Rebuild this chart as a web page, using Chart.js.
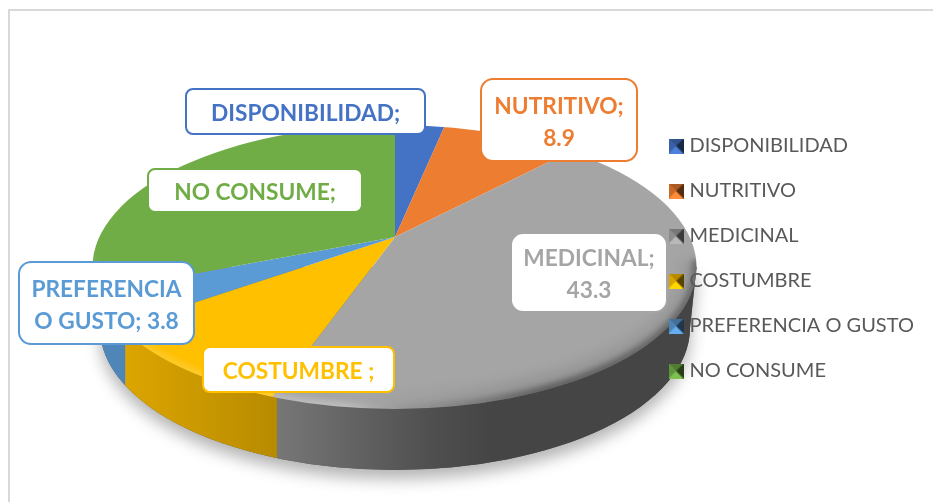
<!DOCTYPE html>
<html><head><meta charset="utf-8">
<style>html,body{margin:0;padding:0;background:#fff}canvas{display:block}</style>
<script src="https://cdn.jsdelivr.net/npm/chart.js@4"></script>
</head><body>
<canvas id="c" width="933" height="502"></canvas>
<script>
// DATA
const categories = ["DISPONIBILIDAD","NUTRITIVO","MEDICINAL","COSTUMBRE","PREFERENCIA O GUSTO","NO CONSUME"];
const values = [3.3, 8.9, 43.3, 9.8, 3.8, 30.9];
const colors = ["#4472c4","#ed7d31","#a5a5a5","#ffc000","#5b9bd5","#70ad47"];
const calloutLines = [["DISPONIBILIDAD;"],["NUTRITIVO;","8.9"],["MEDICINAL;","43.3"],["COSTUMBRE ;"],["PREFERENCIA","O GUSTO; 3.8"],["NO CONSUME;"]];

// LAYOUT (pixels on the page)
const calloutBoxes = [[186,89,239,45],[481,79,156,82],[511,233,156,79],[203,347,191,45],[19,262,175,82],[148,169,214,43]];
const apex = {x:395, y:237, rx:460, ry:216};
const topDisc = {x:394.5, y:267, rx:302, ry:142};
const baseDisc = {x:395, y:328, rx:295, ry:142};
const wallEdgeShift = 4;
const FONT = "Lato, 'Open Sans', sans-serif";

function rgb(hex){return [1,3,5].map(i=>parseInt(hex.substr(i,2),16));}
function shadeCol(hex,f){const c=rgb(hex).map(v=>Math.min(255,Math.round(v*f)));return `rgb(${c[0]},${c[1]},${c[2]})`;}
function sideShade(x){
  const p=[[90,.88],[127,.86],[277,.72],[470,.42],[700,.42]];
  for(let i=1;i<p.length;i++){ if(x<=p[i][0]){const t=(x-p[i-1][0])/(p[i][0]-p[i-1][0]);return p[i-1][1]+Math.max(0,t)*(p[i][1]-p[i-1][1]);} }
  return .42;
}
function rimParam(a){ // rim position hit by a slice edge at chart angle a
  const dx=Math.cos(a)*apex.rx/topDisc.rx, dy=Math.sin(a)*apex.ry/topDisc.ry;
  const ox=(apex.x-topDisc.x)/topDisc.rx, oy=(apex.y-topDisc.y)/topDisc.ry;
  const A=dx*dx+dy*dy,B=2*(ox*dx+oy*dy),C=ox*ox+oy*oy-1;
  const s=(-B+Math.sqrt(B*B-4*A*C))/(2*A);
  return Math.atan2(oy+s*dy,ox+s*dx);
}
function sidePath(ctx){
  ctx.beginPath();
  ctx.moveTo(topDisc.x-topDisc.rx,topDisc.y);
  ctx.lineTo(baseDisc.x-baseDisc.rx,baseDisc.y);
  ctx.ellipse(baseDisc.x,baseDisc.y,baseDisc.rx,baseDisc.ry,0,Math.PI,0,true);
  ctx.lineTo(topDisc.x+topDisc.rx,topDisc.y);
  ctx.closePath();
}
function drawSide(ctx,meta){
  ctx.save();
  ctx.shadowColor="rgba(0,0,0,.30)";ctx.shadowBlur=16;ctx.shadowOffsetY=9;
  ctx.fillStyle="#555";sidePath(ctx);ctx.fill();
  ctx.restore();
  ctx.save();sidePath(ctx);ctx.clip();
  meta.data.forEach((el,i)=>{
    let a=rimParam(el.startAngle),b=rimParam(el.endAngle);
    if(b<a)b+=2*Math.PI;
    const lo=Math.max(a,0),hi=Math.min(b,Math.PI);
    if(hi<=lo)return;
    const x1=lo<=0?topDisc.x+topDisc.rx+10:topDisc.x+topDisc.rx*Math.cos(lo)+wallEdgeShift;
    const x0=hi>=Math.PI?topDisc.x-topDisc.rx-10:topDisc.x+topDisc.rx*Math.cos(hi)+wallEdgeShift;
    const g=ctx.createLinearGradient(x0,0,x1,0);
    for(let k=0;k<=8;k++){const x=x0+(x1-x0)*k/8;g.addColorStop(k/8,shadeCol(colors[i],sideShade(x)));}
    ctx.fillStyle=g;
    ctx.fillRect(x0,topDisc.y-5,x1-x0+.5,baseDisc.y+baseDisc.ry-topDisc.y+20);
  });
  ctx.restore();
}
function topClip(ctx){ctx.beginPath();ctx.ellipse(topDisc.x,topDisc.y,topDisc.rx,topDisc.ry,0,0,2*Math.PI);ctx.clip();}
function drawBevel(ctx){
  ctx.save();topClip(ctx);
  const x0=topDisc.x-topDisc.rx,x1=topDisc.x+topDisc.rx;
  // wide soft darkening of the right part of the rim
  ctx.filter="blur(6px)";
  const w=ctx.createLinearGradient(x0,0,x1,0);
  w.addColorStop(.45,"rgba(0,0,0,0)");
  w.addColorStop(.7,"rgba(0,0,0,.09)");
  w.addColorStop(1,"rgba(0,0,0,.06)");
  ctx.strokeStyle=w;ctx.lineWidth=34;
  ctx.beginPath();ctx.ellipse(topDisc.x,topDisc.y,topDisc.rx,topDisc.ry,0,-.05,Math.PI+.05);ctx.stroke();
  ctx.filter="blur(3px)";
  const g=ctx.createLinearGradient(x0,0,x1,0);
  g.addColorStop(0,"rgba(255,255,255,.12)");
  g.addColorStop(.42,"rgba(255,255,255,.30)");
  g.addColorStop(.55,"rgba(60,60,60,.15)");
  g.addColorStop(.75,"rgba(40,40,40,.55)");
  g.addColorStop(1,"rgba(40,40,40,.45)");
  ctx.strokeStyle=g;ctx.lineWidth=9;
  ctx.beginPath();ctx.ellipse(topDisc.x,topDisc.y,topDisc.rx,topDisc.ry,0,-.05,Math.PI+.05);ctx.stroke();
  ctx.restore();
}
function makeIcon(hex){
  const s=15,cv=document.createElement("canvas");cv.width=s;cv.height=s;
  const c=cv.getContext("2d"),m=s/2;
  const tri=(pts,col)=>{c.fillStyle=col;c.beginPath();pts.forEach((p,i)=>i?c.lineTo(p[0],p[1]):c.moveTo(p[0],p[1]));c.closePath();c.fill();};
  c.fillStyle=hex;c.fillRect(0,0,s,s);
  tri([[0,0],[s,0],[m,m]],shadeCol(hex,.72));
  tri([[0,s],[s,s],[m,m]],shadeCol(hex,1.12));
  tri([[0,0],[0,s],[m,m]],shadeCol(hex,.85));
  tri([[s,0],[s,s],[m,m]],shadeCol(hex,.35));
  return cv;
}
function roundBox(ctx,b,r){ctx.beginPath();ctx.roundRect(b[0],b[1],b[2],b[3],r);}

const pie3d={
  id:"pie3d",
  beforeLayout(chart){
    const l=chart.legend;
    if(l) l._layers=()=>[{z:1,draw:(a)=>l.draw(a)}];
  },
  afterLayout(chart){
    const l=chart.legend;
    l.left=647.5;l.right=l.left+l.width;
    l.top+=4;l.bottom+=4;
  },
  beforeDraw(chart){
    const c=chart.ctx;
    c.save();c.strokeStyle="#d9d9d9";c.lineWidth=2;
    c.beginPath();c.moveTo(933,10);c.lineTo(9,10);c.lineTo(9,502);c.stroke();c.restore();
  },
  beforeDatasetDraw(chart,args){
    const c=chart.ctx,meta=args.meta,el=meta.data[0];
    drawSide(c,meta);
    c.save();topClip(c);
    c.translate(apex.x,apex.y);
    c.scale(apex.rx/el.outerRadius,apex.ry/el.outerRadius);
    c.translate(-el.x,-el.y);
  },
  afterDatasetDraw(chart){
    const c=chart.ctx;c.restore();
    drawBevel(c);
    calloutBoxes.forEach((b,i)=>{
      c.save();
      roundBox(c,b,i===1||i===2||i===4?12:7);
      c.fillStyle="#fff";c.fill();
      c.strokeStyle=colors[i];c.lineWidth=2;c.stroke();
      c.fillStyle=colors[i];c.font="bold 22.7px "+FONT;c.textAlign="center";c.textBaseline="middle";
      const L=calloutLines[i],lh=32,cy=b[1]+b[3]/2+2.5;
      L.forEach((t,k)=>c.fillText(t,b[0]+b[2]/2,cy+(k-(L.length-1)/2)*lh));
      c.restore();
    });
  }
};

new Chart(document.getElementById("c"),{
  type:"pie",
  data:{labels:categories,datasets:[{data:values,backgroundColor:colors,borderWidth:0,clip:false}]},
  options:{
    responsive:false,animation:false,events:[],
    layout:{padding:{top:7,bottom:0}},
    plugins:{
      tooltip:{enabled:false},
      legend:{
        position:"right",align:"center",
        labels:{
          font:{family:FONT,size:20,lineHeight:1.2},color:"#595959",
          usePointStyle:true,boxHeight:15,pointStyleWidth:7,padding:25,
          generateLabels(chart){
            return chart.data.labels.map((t,i)=>({text:t,fillStyle:colors[i],strokeStyle:colors[i],lineWidth:0,fontColor:"#595959",pointStyle:makeIcon(colors[i]),hidden:false,index:i}));
          }
        }
      }
    }
  },
  plugins:[pie3d]
});
</script>
</body></html>
